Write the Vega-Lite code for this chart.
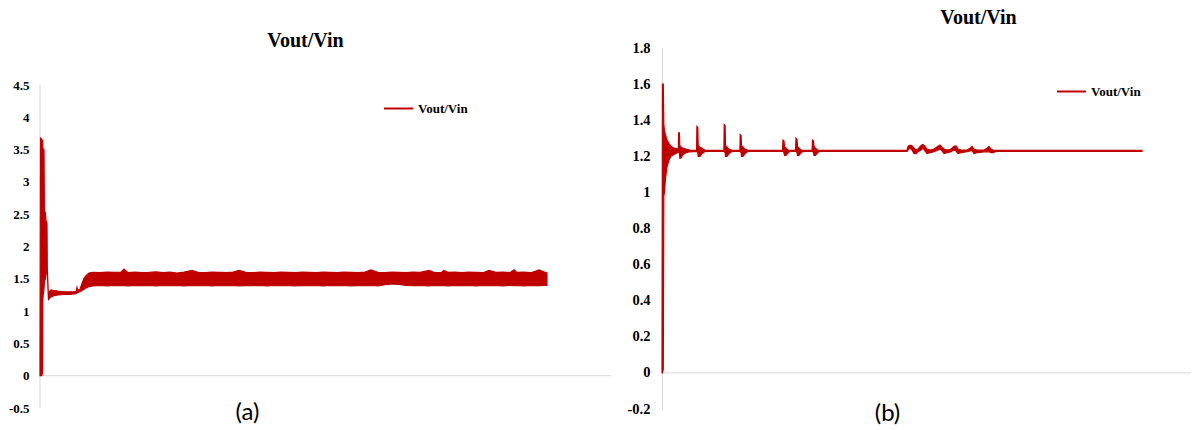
{
  "$schema": "https://vega.github.io/schema/vega-lite/v6.json",
  "autosize": {"type": "pad"},
  "padding": {"left": 8, "top": 8, "right": 0, "bottom": 0},
  "background": "white",
  "spacing": 15,
  "config": {
    "view": {"stroke": null},
    "font": "Liberation Serif",
    "title": {"font": "Liberation Serif", "fontSize": 20, "fontWeight": "bold", "color": "#000000", "anchor": "middle"},
    "axis": {"grid": false, "ticks": false, "labelFont": "Liberation Serif", "labelFontWeight": "bold", "labelColor": "#000000", "domainColor": "#d9d9d9", "domainWidth": 1},
    "legend": {"orient": "none", "title": null, "symbolType": "stroke", "symbolSize": 841, "symbolStrokeWidth": 2, "symbolStrokeColor": "#c00000", "labelFont": "Liberation Serif", "labelFontWeight": "bold", "labelFontSize": 13, "labelColor": "#000000", "labelOffset": 4}
  },
  "resolve": {"scale": {"color": "independent"}, "legend": {"color": "independent"}},
  "hconcat": [
    {
      "width": 571,
      "height": 360,
      "title": {"text": "Vout/Vin", "dx": -20, "offset": -3},
      "encoding": {
        "x": {"field": "t", "type": "quantitative", "scale": {"domain": [0, 571], "nice": false, "zero": false},
          "axis": {"orient": "bottom", "domain": false, "labels": false, "ticks": false, "title": "(a)", "titleFont": "Lato", "titleFontSize": 24, "titleFontWeight": "normal", "titleColor": "#000000", "titleX": 207, "titleY": 11, "titleBaseline": "alphabetic", "titleAlign": "center"}},
        "y": {"field": "v", "type": "quantitative", "scale": {"domain": [-0.5, 5.075], "nice": false, "zero": false},
          "axis": {"orient": "left", "domain": false, "values": [-0.5, 0, 0.5, 1, 1.5, 2, 2.5, 3, 3.5, 4, 4.5], "labelExpr": "'' + datum.value", "labelFont": "Liberation Serif", "labelFontWeight": "bold", "labelFontSize": 13, "labelColor": "#000000", "labelPadding": 11, "title": null}}
      },
      "layer": [
        {
          "data": {"values": [{"t": 0, "v": -0.5, "v2": 4.5}]},
          "mark": {"type": "rule", "color": "#d9d9d9", "strokeWidth": 1},
          "encoding": {"y2": {"field": "v2"}}
        },
        {
          "data": {"values": [{"t": 0, "t2": 571, "v": 0}]},
          "mark": {"type": "rule", "color": "#d9d9d9", "strokeWidth": 1},
          "encoding": {"x2": {"field": "t2"}}
        },
        {
          "data": {"values": [
            {"s": "Vout/Vin", "t": 0, "v": 0.2, "v2": 0},
            {"s": "Vout/Vin", "t": 0.5, "v": 3.68, "v2": 0},
            {"s": "Vout/Vin", "t": 1.8, "v": 3.66, "v2": 0},
            {"s": "Vout/Vin", "t": 2.5, "v": 3.64, "v2": 0.05},
            {"s": "Vout/Vin", "t": 2.9, "v": 3.52, "v2": 1.2},
            {"s": "Vout/Vin", "t": 4.0, "v": 3.5, "v2": 1.35},
            {"s": "Vout/Vin", "t": 4.4, "v": 2.56, "v2": 1.45},
            {"s": "Vout/Vin", "t": 5.4, "v": 2.52, "v2": 1.5},
            {"s": "Vout/Vin", "t": 6.0, "v": 2.4, "v2": 1.58},
            {"s": "Vout/Vin", "t": 7.0, "v": 2.36, "v2": 1.62},
            {"s": "Vout/Vin", "t": 7.3, "v": 1.66, "v2": 1.6},
            {"s": "Vout/Vin", "t": 8.5, "v": 1.22, "v2": 1.17},
            {"s": "Vout/Vin", "t": 9, "v": 1.29, "v2": 1.19},
            {"s": "Vout/Vin", "t": 11, "v": 1.33, "v2": 1.22},
            {"s": "Vout/Vin", "t": 14, "v": 1.32, "v2": 1.24},
            {"s": "Vout/Vin", "t": 18, "v": 1.31, "v2": 1.25},
            {"s": "Vout/Vin", "t": 24, "v": 1.3, "v2": 1.26},
            {"s": "Vout/Vin", "t": 30, "v": 1.3, "v2": 1.26},
            {"s": "Vout/Vin", "t": 36, "v": 1.3, "v2": 1.27},
            {"s": "Vout/Vin", "t": 37, "v": 1.37, "v2": 1.28},
            {"s": "Vout/Vin", "t": 38, "v": 1.32, "v2": 1.29},
            {"s": "Vout/Vin", "t": 40, "v": 1.34, "v2": 1.3},
            {"s": "Vout/Vin", "t": 42, "v": 1.43, "v2": 1.32},
            {"s": "Vout/Vin", "t": 44, "v": 1.51, "v2": 1.34},
            {"s": "Vout/Vin", "t": 46, "v": 1.55, "v2": 1.36},
            {"s": "Vout/Vin", "t": 49, "v": 1.59, "v2": 1.38},
            {"s": "Vout/Vin", "t": 53, "v": 1.6, "v2": 1.39},
            {"s": "Vout/Vin", "t": 60, "v": 1.595, "v2": 1.4},
            {"s": "Vout/Vin", "t": 67, "v": 1.605, "v2": 1.39},
            {"s": "Vout/Vin", "t": 74, "v": 1.6, "v2": 1.4},
            {"s": "Vout/Vin", "t": 81, "v": 1.605, "v2": 1.395},
            {"s": "Vout/Vin", "t": 84, "v": 1.65, "v2": 1.4},
            {"s": "Vout/Vin", "t": 88, "v": 1.595, "v2": 1.39},
            {"s": "Vout/Vin", "t": 95, "v": 1.605, "v2": 1.4},
            {"s": "Vout/Vin", "t": 102, "v": 1.595, "v2": 1.395},
            {"s": "Vout/Vin", "t": 109, "v": 1.6, "v2": 1.4},
            {"s": "Vout/Vin", "t": 116, "v": 1.61, "v2": 1.39},
            {"s": "Vout/Vin", "t": 123, "v": 1.595, "v2": 1.4},
            {"s": "Vout/Vin", "t": 130, "v": 1.605, "v2": 1.395},
            {"s": "Vout/Vin", "t": 137, "v": 1.59, "v2": 1.4},
            {"s": "Vout/Vin", "t": 144, "v": 1.605, "v2": 1.39},
            {"s": "Vout/Vin", "t": 152, "v": 1.63, "v2": 1.4},
            {"s": "Vout/Vin", "t": 158, "v": 1.6, "v2": 1.395},
            {"s": "Vout/Vin", "t": 165, "v": 1.595, "v2": 1.4},
            {"s": "Vout/Vin", "t": 172, "v": 1.605, "v2": 1.39},
            {"s": "Vout/Vin", "t": 179, "v": 1.6, "v2": 1.4},
            {"s": "Vout/Vin", "t": 186, "v": 1.595, "v2": 1.395},
            {"s": "Vout/Vin", "t": 193, "v": 1.605, "v2": 1.4},
            {"s": "Vout/Vin", "t": 199, "v": 1.63, "v2": 1.39},
            {"s": "Vout/Vin", "t": 206, "v": 1.6, "v2": 1.4},
            {"s": "Vout/Vin", "t": 213, "v": 1.595, "v2": 1.395},
            {"s": "Vout/Vin", "t": 220, "v": 1.605, "v2": 1.4},
            {"s": "Vout/Vin", "t": 227, "v": 1.6, "v2": 1.39},
            {"s": "Vout/Vin", "t": 234, "v": 1.595, "v2": 1.4},
            {"s": "Vout/Vin", "t": 241, "v": 1.605, "v2": 1.395},
            {"s": "Vout/Vin", "t": 248, "v": 1.6, "v2": 1.4},
            {"s": "Vout/Vin", "t": 255, "v": 1.595, "v2": 1.39},
            {"s": "Vout/Vin", "t": 262, "v": 1.605, "v2": 1.4},
            {"s": "Vout/Vin", "t": 269, "v": 1.6, "v2": 1.395},
            {"s": "Vout/Vin", "t": 276, "v": 1.595, "v2": 1.4},
            {"s": "Vout/Vin", "t": 283, "v": 1.605, "v2": 1.39},
            {"s": "Vout/Vin", "t": 290, "v": 1.6, "v2": 1.4},
            {"s": "Vout/Vin", "t": 297, "v": 1.595, "v2": 1.395},
            {"s": "Vout/Vin", "t": 304, "v": 1.605, "v2": 1.4},
            {"s": "Vout/Vin", "t": 311, "v": 1.6, "v2": 1.39},
            {"s": "Vout/Vin", "t": 318, "v": 1.595, "v2": 1.4},
            {"s": "Vout/Vin", "t": 325, "v": 1.605, "v2": 1.395},
            {"s": "Vout/Vin", "t": 331, "v": 1.64, "v2": 1.4},
            {"s": "Vout/Vin", "t": 338, "v": 1.6, "v2": 1.39},
            {"s": "Vout/Vin", "t": 345, "v": 1.595, "v2": 1.41},
            {"s": "Vout/Vin", "t": 352, "v": 1.605, "v2": 1.42},
            {"s": "Vout/Vin", "t": 359, "v": 1.6, "v2": 1.415},
            {"s": "Vout/Vin", "t": 366, "v": 1.595, "v2": 1.4},
            {"s": "Vout/Vin", "t": 373, "v": 1.605, "v2": 1.395},
            {"s": "Vout/Vin", "t": 380, "v": 1.6, "v2": 1.4},
            {"s": "Vout/Vin", "t": 389, "v": 1.63, "v2": 1.39},
            {"s": "Vout/Vin", "t": 394, "v": 1.6, "v2": 1.4},
            {"s": "Vout/Vin", "t": 401, "v": 1.595, "v2": 1.395},
            {"s": "Vout/Vin", "t": 404, "v": 1.63, "v2": 1.4},
            {"s": "Vout/Vin", "t": 408, "v": 1.6, "v2": 1.39},
            {"s": "Vout/Vin", "t": 415, "v": 1.605, "v2": 1.4},
            {"s": "Vout/Vin", "t": 422, "v": 1.595, "v2": 1.395},
            {"s": "Vout/Vin", "t": 429, "v": 1.605, "v2": 1.4},
            {"s": "Vout/Vin", "t": 436, "v": 1.6, "v2": 1.39},
            {"s": "Vout/Vin", "t": 443, "v": 1.595, "v2": 1.4},
            {"s": "Vout/Vin", "t": 449, "v": 1.63, "v2": 1.395},
            {"s": "Vout/Vin", "t": 456, "v": 1.6, "v2": 1.4},
            {"s": "Vout/Vin", "t": 463, "v": 1.605, "v2": 1.39},
            {"s": "Vout/Vin", "t": 470, "v": 1.595, "v2": 1.4},
            {"s": "Vout/Vin", "t": 474, "v": 1.64, "v2": 1.395},
            {"s": "Vout/Vin", "t": 477, "v": 1.6, "v2": 1.4},
            {"s": "Vout/Vin", "t": 484, "v": 1.605, "v2": 1.39},
            {"s": "Vout/Vin", "t": 491, "v": 1.595, "v2": 1.4},
            {"s": "Vout/Vin", "t": 499, "v": 1.64, "v2": 1.395},
            {"s": "Vout/Vin", "t": 505, "v": 1.6, "v2": 1.4},
            {"s": "Vout/Vin", "t": 507, "v": 1.59, "v2": 1.4}
          ]},
          "mark": {"type": "area", "stroke": "#c00000", "strokeWidth": 1.2, "interpolate": "linear"},
          "encoding": {
            "y2": {"field": "v2"},
            "color": {"field": "s", "type": "nominal", "scale": {"range": ["#c00000"]},
              "legend": {"legendX": 343, "legendY": 45}}
          }
        }
      ]
    },
    {
      "width": 529,
      "height": 361,
      "title": {"text": "Vout/Vin", "dx": 52, "offset": 12},
      "encoding": {
        "x": {"field": "t", "type": "quantitative", "scale": {"domain": [0, 529], "nice": false, "zero": false},
          "axis": {"orient": "bottom", "domain": false, "labels": false, "ticks": false, "title": "(b)", "titleFont": "Lato", "titleFontSize": 24, "titleFontWeight": "normal", "titleColor": "#000000", "titleX": 225, "titleY": 11, "titleBaseline": "alphabetic", "titleAlign": "center"}},
        "y": {"field": "v", "type": "quantitative", "scale": {"domain": [-0.2, 1.8], "nice": false, "zero": false},
          "axis": {"orient": "left", "domain": true, "values": [-0.2, 0, 0.2, 0.4, 0.6, 0.8, 1, 1.2, 1.4, 1.6, 1.8], "labelExpr": "'' + datum.value", "labelFont": "Liberation Serif", "labelFontWeight": "bold", "labelFontSize": 14.5, "labelColor": "#000000", "labelPadding": 12, "title": null}}
      },
      "layer": [
        {
          "data": {"values": [{"t": 0, "t2": 529, "v": 0}]},
          "mark": {"type": "rule", "color": "#d9d9d9", "strokeWidth": 1},
          "encoding": {"x2": {"field": "t2"}}
        },
        {
          "data": {"values": [
            {"s": "Vout/Vin", "t": 0, "v": 0.05, "v2": 0},
            {"s": "Vout/Vin", "t": 0.4, "v": 1.6, "v2": 0},
            {"s": "Vout/Vin", "t": 1.3, "v": 1.6, "v2": 0.02},
            {"s": "Vout/Vin", "t": 1.8, "v": 1.38, "v2": 0.98},
            {"s": "Vout/Vin", "t": 2.5, "v": 1.34, "v2": 1.0},
            {"s": "Vout/Vin", "t": 3.5, "v": 1.32, "v2": 1.08},
            {"s": "Vout/Vin", "t": 5, "v": 1.29, "v2": 1.14},
            {"s": "Vout/Vin", "t": 7, "v": 1.27, "v2": 1.18},
            {"s": "Vout/Vin", "t": 9, "v": 1.255, "v2": 1.2},
            {"s": "Vout/Vin", "t": 12, "v": 1.245, "v2": 1.21},
            {"s": "Vout/Vin", "t": 16.3, "v": 1.24, "v2": 1.222},
            {"s": "Vout/Vin", "t": 16.6, "v": 1.33, "v2": 1.222},
            {"s": "Vout/Vin", "t": 17.4, "v": 1.33, "v2": 1.22},
            {"s": "Vout/Vin", "t": 17.8, "v": 1.26, "v2": 1.19},
            {"s": "Vout/Vin", "t": 19, "v": 1.25, "v2": 1.19},
            {"s": "Vout/Vin", "t": 21, "v": 1.245, "v2": 1.21},
            {"s": "Vout/Vin", "t": 24, "v": 1.24, "v2": 1.22},
            {"s": "Vout/Vin", "t": 28, "v": 1.235, "v2": 1.225},
            {"s": "Vout/Vin", "t": 34.6, "v": 1.233, "v2": 1.227},
            {"s": "Vout/Vin", "t": 34.9, "v": 1.365, "v2": 1.227},
            {"s": "Vout/Vin", "t": 35.8, "v": 1.36, "v2": 1.22},
            {"s": "Vout/Vin", "t": 36.2, "v": 1.26, "v2": 1.2},
            {"s": "Vout/Vin", "t": 38, "v": 1.25, "v2": 1.2},
            {"s": "Vout/Vin", "t": 40, "v": 1.245, "v2": 1.215},
            {"s": "Vout/Vin", "t": 43, "v": 1.233, "v2": 1.227},
            {"s": "Vout/Vin", "t": 61.9, "v": 1.233, "v2": 1.227},
            {"s": "Vout/Vin", "t": 62.2, "v": 1.375, "v2": 1.227},
            {"s": "Vout/Vin", "t": 63.1, "v": 1.37, "v2": 1.22},
            {"s": "Vout/Vin", "t": 63.5, "v": 1.26, "v2": 1.2},
            {"s": "Vout/Vin", "t": 65, "v": 1.25, "v2": 1.2},
            {"s": "Vout/Vin", "t": 67, "v": 1.24, "v2": 1.215},
            {"s": "Vout/Vin", "t": 70, "v": 1.233, "v2": 1.227},
            {"s": "Vout/Vin", "t": 77.9, "v": 1.233, "v2": 1.227},
            {"s": "Vout/Vin", "t": 78.2, "v": 1.32, "v2": 1.227},
            {"s": "Vout/Vin", "t": 79.1, "v": 1.315, "v2": 1.22},
            {"s": "Vout/Vin", "t": 79.5, "v": 1.26, "v2": 1.2},
            {"s": "Vout/Vin", "t": 81, "v": 1.25, "v2": 1.2},
            {"s": "Vout/Vin", "t": 83, "v": 1.24, "v2": 1.215},
            {"s": "Vout/Vin", "t": 86, "v": 1.233, "v2": 1.227},
            {"s": "Vout/Vin", "t": 120.5, "v": 1.233, "v2": 1.227},
            {"s": "Vout/Vin", "t": 121, "v": 1.29, "v2": 1.227},
            {"s": "Vout/Vin", "t": 122, "v": 1.285, "v2": 1.22},
            {"s": "Vout/Vin", "t": 122.5, "v": 1.255, "v2": 1.205},
            {"s": "Vout/Vin", "t": 124, "v": 1.245, "v2": 1.205},
            {"s": "Vout/Vin", "t": 126, "v": 1.235, "v2": 1.22},
            {"s": "Vout/Vin", "t": 128, "v": 1.233, "v2": 1.227},
            {"s": "Vout/Vin", "t": 133.5, "v": 1.233, "v2": 1.227},
            {"s": "Vout/Vin", "t": 134, "v": 1.3, "v2": 1.227},
            {"s": "Vout/Vin", "t": 135, "v": 1.295, "v2": 1.22},
            {"s": "Vout/Vin", "t": 135.5, "v": 1.255, "v2": 1.205},
            {"s": "Vout/Vin", "t": 137, "v": 1.245, "v2": 1.205},
            {"s": "Vout/Vin", "t": 139, "v": 1.235, "v2": 1.22},
            {"s": "Vout/Vin", "t": 141, "v": 1.233, "v2": 1.227},
            {"s": "Vout/Vin", "t": 150, "v": 1.233, "v2": 1.227},
            {"s": "Vout/Vin", "t": 150.5, "v": 1.29, "v2": 1.227},
            {"s": "Vout/Vin", "t": 151.5, "v": 1.285, "v2": 1.22},
            {"s": "Vout/Vin", "t": 152, "v": 1.255, "v2": 1.205},
            {"s": "Vout/Vin", "t": 153.5, "v": 1.245, "v2": 1.205},
            {"s": "Vout/Vin", "t": 155.5, "v": 1.235, "v2": 1.22},
            {"s": "Vout/Vin", "t": 157.5, "v": 1.233, "v2": 1.227},
            {"s": "Vout/Vin", "t": 245, "v": 1.233, "v2": 1.227},
            {"s": "Vout/Vin", "t": 246, "v": 1.255, "v2": 1.235},
            {"s": "Vout/Vin", "t": 248, "v": 1.262, "v2": 1.245},
            {"s": "Vout/Vin", "t": 250, "v": 1.258, "v2": 1.235},
            {"s": "Vout/Vin", "t": 252, "v": 1.245, "v2": 1.215},
            {"s": "Vout/Vin", "t": 254, "v": 1.235, "v2": 1.215},
            {"s": "Vout/Vin", "t": 256, "v": 1.24, "v2": 1.225},
            {"s": "Vout/Vin", "t": 259, "v": 1.26, "v2": 1.235},
            {"s": "Vout/Vin", "t": 261, "v": 1.265, "v2": 1.245},
            {"s": "Vout/Vin", "t": 263, "v": 1.255, "v2": 1.23},
            {"s": "Vout/Vin", "t": 265, "v": 1.24, "v2": 1.215},
            {"s": "Vout/Vin", "t": 268, "v": 1.235, "v2": 1.22},
            {"s": "Vout/Vin", "t": 272, "v": 1.24, "v2": 1.225},
            {"s": "Vout/Vin", "t": 276, "v": 1.255, "v2": 1.235},
            {"s": "Vout/Vin", "t": 278, "v": 1.262, "v2": 1.24},
            {"s": "Vout/Vin", "t": 280, "v": 1.25, "v2": 1.23},
            {"s": "Vout/Vin", "t": 282, "v": 1.24, "v2": 1.215},
            {"s": "Vout/Vin", "t": 285, "v": 1.235, "v2": 1.22},
            {"s": "Vout/Vin", "t": 289, "v": 1.24, "v2": 1.225},
            {"s": "Vout/Vin", "t": 292, "v": 1.255, "v2": 1.235},
            {"s": "Vout/Vin", "t": 294, "v": 1.258, "v2": 1.23},
            {"s": "Vout/Vin", "t": 296, "v": 1.24, "v2": 1.215},
            {"s": "Vout/Vin", "t": 299, "v": 1.235, "v2": 1.22},
            {"s": "Vout/Vin", "t": 305, "v": 1.235, "v2": 1.225},
            {"s": "Vout/Vin", "t": 308, "v": 1.245, "v2": 1.23},
            {"s": "Vout/Vin", "t": 310, "v": 1.255, "v2": 1.232},
            {"s": "Vout/Vin", "t": 312, "v": 1.24, "v2": 1.215},
            {"s": "Vout/Vin", "t": 315, "v": 1.235, "v2": 1.22},
            {"s": "Vout/Vin", "t": 322, "v": 1.235, "v2": 1.225},
            {"s": "Vout/Vin", "t": 325, "v": 1.245, "v2": 1.225},
            {"s": "Vout/Vin", "t": 327, "v": 1.255, "v2": 1.225},
            {"s": "Vout/Vin", "t": 329, "v": 1.24, "v2": 1.22},
            {"s": "Vout/Vin", "t": 331, "v": 1.235, "v2": 1.22},
            {"s": "Vout/Vin", "t": 334, "v": 1.233, "v2": 1.227},
            {"s": "Vout/Vin", "t": 480, "v": 1.233, "v2": 1.227}
          ]},
          "mark": {"type": "area", "stroke": "#c00000", "strokeWidth": 1.2, "interpolate": "linear"},
          "encoding": {
            "y2": {"field": "v2"},
            "color": {"field": "s", "type": "nominal", "scale": {"range": ["#c00000"]},
              "legend": {"legendX": 394, "legendY": 28}}
          }
        }
      ]
    }
  ]
}
